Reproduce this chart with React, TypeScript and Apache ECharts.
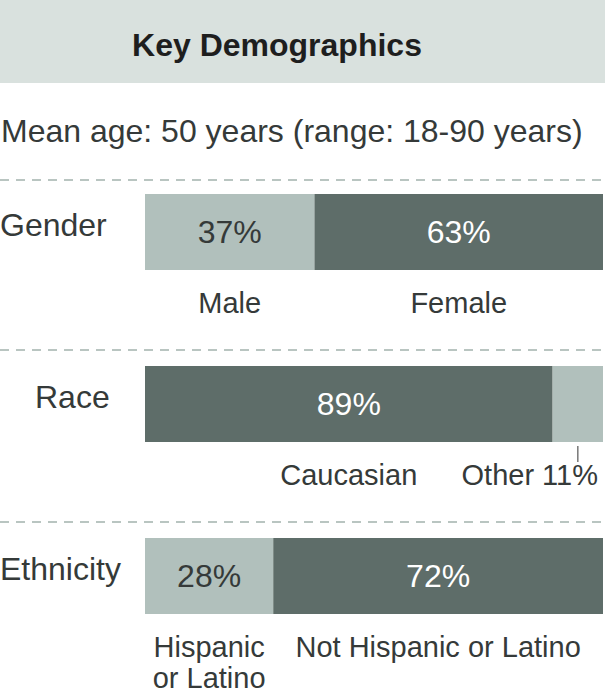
import { useEffect, useRef } from "react";
import * as echarts from "echarts";

const categories = ["Gender", "Race", "Ethnicity"];
const firstValues = [37, 89, 28];
const secondValues = [63, 11, 72];
const firstNames = ["Male", "Caucasian", "Hispanic\nor Latino"];
const secondNames = ["Female", "Other", "Not Hispanic or Latino"];
// which segment is the dark one
const firstDark = [false, true, false];
// segments too narrow for an inside label get a callout below instead
const secondCallout = [false, true, false];

const TITLE = "Key Demographics";
const SUBTITLE = "Mean age: 50 years (range: 18-90 years)";

const LIGHT = "#b1c0bc";
const DARK = "#5e6d69";
const TEXT = "#353a39";
const FONT = "'Liberation Sans', Arial, sans-serif";
const FS = 32;
const SUB_FS = 29;
const BAR_W = 76;
const LEFT = 145;

type Sub = { cat: number; start: number; end: number; text: string; callout: boolean };

const subs: Sub[] = [];
categories.forEach((_, i) => {
  subs.push({ cat: i, start: 0, end: firstValues[i], text: firstNames[i], callout: false });
  const callout = secondCallout[i];
  subs.push({
    cat: i,
    start: firstValues[i],
    end: firstValues[i] + secondValues[i],
    text: callout ? `${secondNames[i]} ${secondValues[i]}%` : secondNames[i],
    callout,
  });
});

function segData(values: number[], dark: (i: number) => boolean, hide: (i: number) => boolean) {
  return values.map((v, i) => ({
    value: v,
    itemStyle: { color: dark(i) ? DARK : LIGHT },
    label: { show: !hide(i), color: dark(i) ? "#ffffff" : TEXT },
  }));
}

export default function App() {
  const ref = useRef<HTMLDivElement | null>(null);

  useEffect(() => {
    if (!ref.current) return;
    const chart = echarts.init(ref.current, undefined, { renderer: "svg" });
    const option: any = {
      animation: false,
      textStyle: { fontFamily: FONT },
      grid: { left: LEFT, right: 2, top: 146, bottom: 32, outerBoundsMode: "none", containLabel: false },
      xAxis: { type: "value", min: 0, max: 100, show: false },
      yAxis: {
        type: "category",
        data: categories,
        inverse: true,
        axisLine: { show: false },
        axisTick: { show: false },
        axisLabel: {
          margin: LEFT,
          align: "left",
          formatter: (v: string, i: number) => (i === 1 ? `{indent|${v}}` : `{base|${v}}`),
          rich: {
            base: { fontSize: FS, color: TEXT, fontFamily: FONT, padding: [0, 0, 15, 0] },
            indent: { fontSize: FS, color: TEXT, fontFamily: FONT, padding: [0, 0, 15, 35] },
          },
        },
      },
      graphic: [
        { type: "rect", shape: { x: 0, y: 0, width: 605, height: 83 }, style: { fill: "#d9e1de" } },
        {
          type: "text",
          x: 277,
          y: 45,
          style: {
            text: TITLE,
            fill: "#1e1e1e",
            font: `bold ${FS}px ${FONT}`,
            textAlign: "center",
            textVerticalAlign: "middle",
          },
        },
        {
          type: "text",
          x: 1,
          y: 131,
          style: { text: SUBTITLE, fill: TEXT, font: `${FS}px ${FONT}`, textVerticalAlign: "middle" },
        },
        ...[180, 350, 522].map((y) => ({
          type: "line",
          shape: { x1: 0, y1: y, x2: 605, y2: y },
          style: { stroke: "#b9c5c1", lineWidth: 2, lineDash: [9, 7] },
        })),
      ],
      series: [
        {
          type: "bar",
          stack: "s",
          barWidth: BAR_W,
          label: { show: true, position: "inside", formatter: "{c}%", fontSize: FS, fontFamily: FONT },
          data: segData(firstValues, (i) => firstDark[i], () => false),
        },
        {
          type: "bar",
          stack: "s",
          barWidth: BAR_W,
          label: { show: true, position: "inside", formatter: "{c}%", fontSize: FS, fontFamily: FONT },
          data: segData(secondValues, (i) => !firstDark[i], (i) => secondCallout[i]),
        },
        {
          type: "custom",
          silent: true,
          data: subs.map((s) => [s.start, s.end, s.cat]),
          encode: { x: [0, 1], y: 2 },
          renderItem: (params: any, api: any) => {
            const s = subs[params.dataIndex];
            const a = api.coord([s.start, s.cat]);
            const b = api.coord([s.end, s.cat]);
            const bottom = a[1] + BAR_W / 2;
            const mid = (a[0] + b[0]) / 2;
            const children: any[] = [];
            if (s.callout) {
              children.push({
                type: "line",
                shape: { x1: mid, y1: bottom + 4, x2: mid, y2: bottom + 20 },
                style: { stroke: "#777", lineWidth: 1.5 },
              });
            }
            children.push({
              type: "text",
              x: s.callout ? b[0] - 5 : mid,
              y: bottom + 17,
              style: {
                text: s.text,
                fill: TEXT,
                font: `${SUB_FS}px ${FONT}`,
                lineHeight: 31,
                textAlign: s.callout ? "right" : "center",
                textVerticalAlign: "top",
              },
            });
            return { type: "group", children };
          },
        },
      ],
    };
    chart.setOption(option);
    return () => chart.dispose();
  }, []);

  return (
    <div
      ref={ref}
      style={{ position: "fixed", left: 0, top: 0, width: 605, height: 694, background: "#fff" }}
    />
  );
}
